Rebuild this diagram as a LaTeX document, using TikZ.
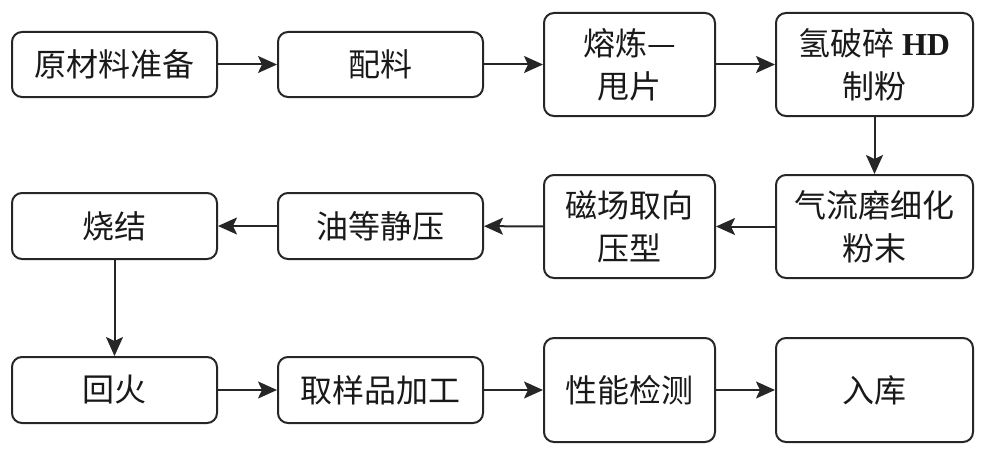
\documentclass[tikz,border=0pt]{standalone}
\usepackage{fontspec}
\setmainfont{Noto Sans CJK SC}
\newfontfamily\latinserif{Liberation Serif}
\usetikzlibrary{arrows.meta}
\tikzset{
	stepbox/.style={draw=black!85, line width=2pt, rounded corners=10pt, align=center,
		inner sep=0pt, font=\fontsize{32}{43}\selectfont, text=black!90},
	flow/.style={draw=black!85, line width=2pt, -{Stealth[length=19pt,width=17pt,inset=4pt]}}
}
\begin{document}
\begin{tikzpicture}[x=1pt,y=-1pt]
				\useasboundingbox (0,0) rectangle (985,452);

				% first row
				\node[stepbox, minimum width=205pt, minimum height=65pt] (prep) at (114.5, 64.5) {原材料准备};
				\node[stepbox, minimum width=205pt, minimum height=65pt] (mix) at (380.5, 64.5) {配料};
				\node[stepbox, minimum width=171pt, minimum height=103pt] (melt) at (629.5, 64.5) {熔炼—\\甩片};
				\node[stepbox, minimum width=197pt, minimum height=103pt] (hd) at (874.5, 64.5) {氢破碎 {\latinserif\bfseries HD}\\制粉};

				% second row
				\node[stepbox, minimum width=197pt, minimum height=103pt] (jet) at (874.5, 226.5) {气流磨细化\\粉末};
				\node[stepbox, minimum width=171pt, minimum height=103pt] (press) at (629.5, 226.5) {磁场取向\\压型};
				\node[stepbox, minimum width=205pt, minimum height=66pt] (cip) at (380.5, 226) {油等静压};
				\node[stepbox, minimum width=205pt, minimum height=66pt] (sinter) at (114.5, 226) {烧结};

				% third row
				\node[stepbox, minimum width=205pt, minimum height=66pt] (temper) at (114.5, 390) {回火};
				\node[stepbox, minimum width=205pt, minimum height=66pt] (sample) at (380.5, 390) {取样品加工};
				\node[stepbox, minimum width=171pt, minimum height=104pt] (test) at (629.5, 390) {性能检测};
				\node[stepbox, minimum width=197pt, minimum height=104pt] (store) at (874.5, 390) {入库};

				\draw[flow] (prep) -- (mix);
				\draw[flow] (mix) -- (melt);
				\draw[flow] (melt) -- (hd);
				\draw[flow] (hd) -- (jet);
				\draw[flow] (jet) -- (press);
				\draw[flow] (press) -- (cip);
				\draw[flow] (cip) -- (sinter);
				\draw[flow] (sinter) -- (temper);
				\draw[flow] (temper) -- (sample);
				\draw[flow] (sample) -- (test);
				\draw[flow] (test) -- (store);
			\end{tikzpicture}
\end{document}
